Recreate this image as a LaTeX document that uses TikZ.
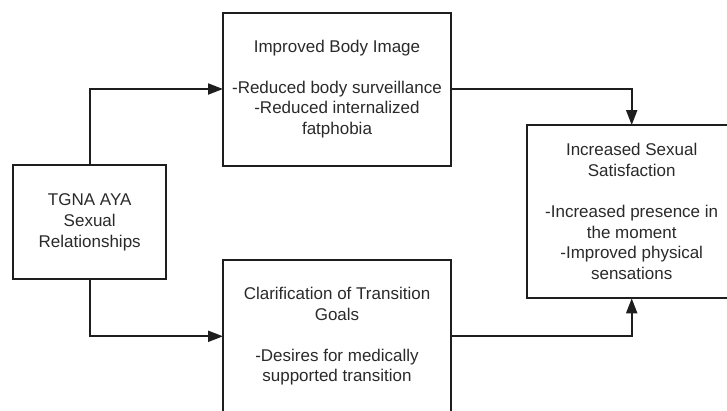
\documentclass[tikz,border=0pt]{standalone}
\usepackage{fontspec}
\setmainfont{Liberation Sans}
\usetikzlibrary{arrows.meta}
\definecolor{ink}{HTML}{1E1E1E}
\definecolor{txt}{HTML}{2A2A2A}
\tikzset{
  box/.style={draw=ink, line width=2pt, fill=white, align=center, inner sep=0pt, outer sep=0pt,
    font=\fontsize{17}{20.6}\selectfont, text=txt},
  conn/.style={draw=ink, line width=2pt, -{Triangle[length=15pt,width=11pt]}}
}
\begin{document}
\begin{tikzpicture}[x=1pt,y=-1pt]
\useasboundingbox (0,0) rectangle (727,410);
\clip (0,0) rectangle (727,410);
\fill[white] (0,0) rectangle (727,410);
\node[box, minimum width=152.5pt, minimum height=114pt] (L) at (89.7,222.3)
  {TGNA AYA\\Sexual\\Relationships};
\node[box, minimum width=228pt, minimum height=153pt] (T) at (337,89)
  {Improved Body Image\\[20.6pt]-Reduced body surveillance\\-Reduced internalized\\fatphobia};
\node[box, minimum width=228pt, minimum height=152.6pt] (B) at (337,336.3)
  {Clarification of Transition\\Goals\\[20.6pt]-Desires for medically\\supported transition};
\node[box, minimum width=209pt, minimum height=173.3pt] (R) at (631.7,211.7)
  {Increased Sexual\\Satisfaction\\[20.6pt]-Increased presence in\\the moment\\-Improved physical\\sensations};
\draw[conn] (L.north) |- (T.west);
\draw[conn] (L.south) |- (B.west);
\draw[conn] (T.east) -| (R.north);
\draw[conn] (B.east) -| (R.south);
\end{tikzpicture}
\end{document}
